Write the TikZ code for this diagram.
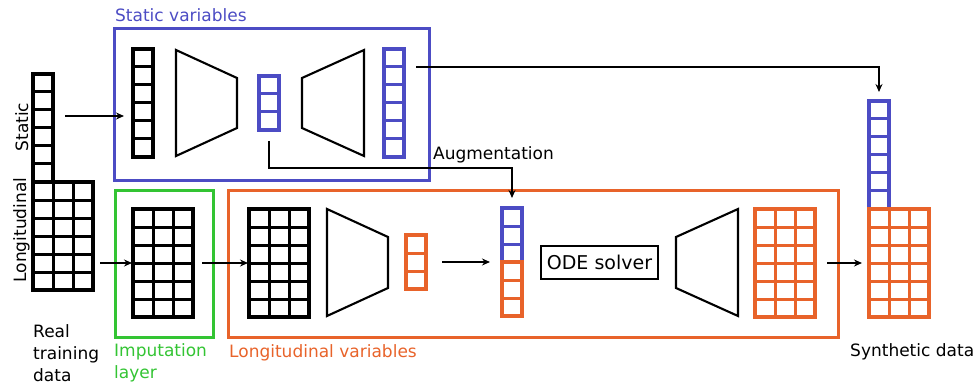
\documentclass[tikz,border=0pt]{standalone}
\usepackage{fontspec}
\setmainfont{DejaVu Sans}
\usetikzlibrary{arrows.meta,calc}
\definecolor{sblue}{RGB}{76,76,196}
\definecolor{sgreen}{RGB}{51,196,51}
\definecolor{sorange}{RGB}{232,99,42}
\tikzset{
  cellbox/.style={rectangle, inner sep=0pt, outer sep=0pt, anchor=north west, line width=3.1pt},
  cellline/.style={line width=3pt},
  groupbox/.style={line width=2.8pt},
  trap/.style={line width=2.1pt, line join=miter},
  arr/.style={line width=1.7pt, -{Stealth[length=8pt,width=7pt]}},
  lbl/.style={font=\fontsize{17}{20}\selectfont, inner sep=0pt},
}
\newcommand\cellgrid[6]{%
  \node[cellbox, draw=#2, minimum width=#5*20pt, minimum height=#6*18pt] (#1) at (#3,#4) {};
  \pgfmathtruncatemacro\nrows{#6-1}%
  \foreach \rr in {1,...,\nrows} {\draw[cellline, draw=#2] ([yshift=-\rr*18pt]#1.north west) -- ([yshift=-\rr*18pt]#1.north east);}
  \ifnum#5>1
    \pgfmathtruncatemacro\ncols{#5-1}%
    \foreach \cc in {1,...,\ncols} {\draw[cellline, draw=#2] ([xshift=\cc*20pt]#1.north west) -- ([xshift=\cc*20pt]#1.south west);}
  \fi
}
\begin{document}
\begin{tikzpicture}[x=1pt,y=-1pt]
\useasboundingbox (0,0) rectangle (975,385);

% group boxes
\node[groupbox, draw=sblue, rectangle, inner sep=0pt, anchor=north west, minimum width=315pt, minimum height=152pt] (staticbox) at (113,27) {};
\node[groupbox, draw=sgreen, rectangle, inner sep=0pt, anchor=north west, minimum width=98pt, minimum height=147pt] (impbox) at (114,189) {};
\node[groupbox, draw=sorange, rectangle, inner sep=0pt, anchor=north west, minimum width=610pt, minimum height=147pt] (longbox) at (227,189) {};

% real training data
\cellgrid{realS}{black}{33}{74}{1}{6}
\cellgrid{realL}{black}{33}{182}{3}{6}
\node[lbl, rotate=90, anchor=base] (lblS) at (28,127) {Static};
\node[lbl, rotate=90, anchor=base] (lblL) at (26,230) {Longitudinal};
\node[lbl, anchor=base west] (rt1) at (33,337) {Real};
\node[lbl, anchor=base west] (rt2) at (33,359) {training};
\node[lbl, anchor=base west] (rt3) at (33,381) {data};

% static branch
\cellgrid{sIn}{black}{133}{49}{1}{6}
\draw[trap] (176,50) -- (237,78) -- (237,128) -- (176,156) -- cycle;
\cellgrid{latB}{sblue}{259}{76}{1}{3}
\draw[trap] (302,78) -- (364,50) -- (364,156) -- (302,128) -- cycle;
\cellgrid{sOut}{sblue}{384}{49}{1}{6}
\node[lbl, anchor=base west, text=sblue] (tStatic) at (115,22) {Static variables};

% imputation
\cellgrid{impG}{black}{133}{209}{3}{6}
\node[lbl, anchor=base west, text=sgreen] (tImp1) at (114,356) {Imputation};
\node[lbl, anchor=base west, text=sgreen] (tImp2) at (114,378) {layer};

% longitudinal branch
\cellgrid{lIn}{black}{249}{209}{3}{6}
\draw[trap] (327,209) -- (388,237) -- (388,288) -- (327,316) -- cycle;
\cellgrid{latO}{sorange}{406}{235}{1}{3}
\cellgrid{augB}{sblue}{502}{208}{1}{3}
\cellgrid{augO}{sorange}{502}{262}{1}{3}
\node[draw, line width=2.2pt, inner sep=3pt, font=\fontsize{19}{22}\selectfont, minimum width=117pt, minimum height=33pt] (ode) at (599.5,262.5) {ODE solver};
\draw[trap] (676,237) -- (738,209) -- (738,316) -- (676,288) -- cycle;
\cellgrid{lOut}{sorange}{755}{209}{3}{6}
\node[lbl, anchor=base west, text=sorange] (tLong) at (229,357) {Longitudinal variables};

% synthetic data
\cellgrid{synS}{sblue}{869}{101}{1}{6}
\cellgrid{synL}{sorange}{869}{209}{3}{6}
\node[lbl, anchor=base west] (tSyn) at (850,356) {Synthetic data};

% connectors
\coordinate (a1) at (65,116);
\draw[arr, shorten >=9pt] (a1) -- (a1 -| sIn.west);
\draw[arr, shorten <=7pt, shorten >=1pt] (realL.east |- impG.west) -- (impG.west);
\draw[arr, shorten <=9pt, shorten >=1pt] (impG.east) -- (lIn.west);
\draw[arr, shorten <=16pt, shorten >=12pt] (latO.east) -- (augO.north west);
\draw[arr, shorten <=12pt, shorten >=7pt] (lOut.east) -- (synL.west);
\coordinate (a2) at (416,67);
\draw[arr, shorten >=9pt] (a2) -| (synS.north);
\coordinate (a3) at ([yshift=-11pt]latB.south);
\draw[arr, shorten >=10pt] (a3) -- (a3 |- 0,168) -| (augB.north);
\node[lbl, anchor=base west] (tAug) at (433,160) {Augmentation};
\end{tikzpicture}
\end{document}
